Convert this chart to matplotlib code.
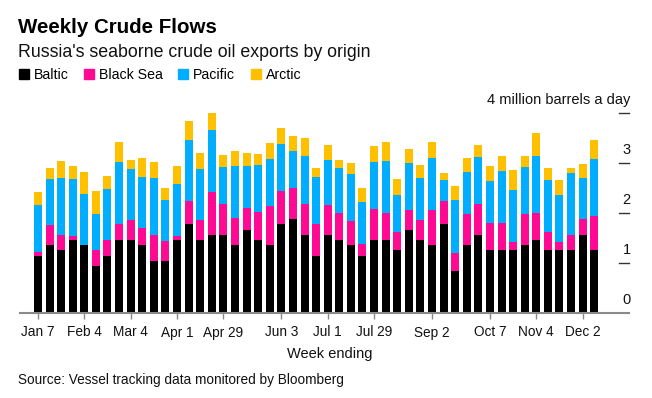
import matplotlib
matplotlib.use("Agg")
import matplotlib.pyplot as plt
import matplotlib.transforms as mtransforms
import numpy as np
import pandas as pd
from matplotlib.lines import Line2D

plt.rcParams["font.family"] = ["Liberation Sans", "DejaVu Sans"]

# weekly values, million barrels a day, weeks ending Jan 7 .. Dec 9
weeks = pd.date_range("2018-01-07", periods=49, freq="7D")

baltic = [1.15, 1.36, 1.26, 1.46, 1.36, 0.94, 1.15, 1.46, 1.46, 1.36,
          1.04, 1.04, 1.46, 1.78, 1.46, 1.56, 1.56, 1.36, 1.66, 1.46,
          1.36, 1.78, 1.88, 1.56, 1.15, 1.56, 1.46, 1.36, 1.15, 1.46,
          1.46, 1.26, 1.66, 1.46, 1.36, 1.78, 0.84, 1.36, 1.56, 1.26,
          1.26, 1.26, 1.36, 1.46, 1.26, 1.26, 1.26, 1.56, 1.26]
black_sea = [0.08, 0.40, 0.30, 0.08, 0.00, 0.32, 0.32, 0.33, 0.40, 0.34,
             0.52, 0.40, 0.08, 0.46, 0.40, 0.86, 0.62, 0.54, 0.44, 0.56,
             0.78, 0.66, 0.62, 0.62, 0.64, 0.60, 0.54, 0.48, 0.23, 0.62,
             0.54, 0.36, 0.40, 0.40, 0.70, 0.46, 0.36, 0.62, 0.62, 0.54,
             0.54, 0.16, 0.62, 0.54, 0.36, 0.16, 0.30, 0.32, 0.68]
pacific = [0.93, 0.92, 1.14, 1.14, 1.02, 0.72, 1.01, 1.23, 1.02, 1.02,
           1.14, 0.82, 1.04, 1.22, 1.02, 1.24, 0.74, 1.04, 0.84, 0.94,
           0.94, 0.94, 0.74, 0.96, 0.93, 0.90, 0.90, 0.94, 0.84, 0.94,
           1.04, 0.74, 0.94, 0.84, 1.04, 0.42, 1.06, 0.84, 0.94, 0.84,
           1.04, 1.04, 0.94, 1.14, 1.04, 0.94, 1.24, 0.82, 1.14]
arctic = [0.26, 0.22, 0.34, 0.26, 0.44, 0.46, 0.26, 0.40, 0.18, 0.38,
          0.32, 0.24, 0.36, 0.38, 0.32, 0.34, 0.24, 0.30, 0.26, 0.22,
          0.32, 0.32, 0.30, 0.36, 0.18, 0.30, 0.16, 0.22, 0.28, 0.32,
          0.38, 0.32, 0.28, 0.26, 0.32, 0.14, 0.28, 0.28, 0.24, 0.30,
          0.30, 0.40, 0.22, 0.46, 0.24, 0.30, 0.10, 0.28, 0.38]

series = ["Baltic", "Black Sea", "Pacific", "Arctic"]
colors = ["#000000", "#ff0a93", "#00adff", "#ffc000"]
tick_weeks = ["Jan 7", "Feb 4", "Mar 4", "Apr 1", "Apr 29", "Jun 3",
              "Jul 1", "Jul 29", "Sep 2", "Oct 7", "Nov 4", "Dec 2"]
y_ticks = [0, 1, 2, 3, 4]

W, H = 652, 398
fig = plt.figure(figsize=(W / 100, H / 100), dpi=100)
ax = fig.add_axes([20 / W, 1 - 313 / H, 609 / W, 210 / H])

x = np.arange(len(weeks))
bottom = np.zeros(len(weeks))
for vals, col in zip([baltic, black_sea, pacific, arctic], colors):
    ax.bar(x, vals, bottom=bottom, width=0.69, color=col, linewidth=0)
    bottom += np.asarray(vals)

ax.set_xlim(-1.55, 51.0)
ax.set_ylim(0, 4.2)

for s in ["top", "right", "left"]:
    ax.spines[s].set_visible(False)
ax.spines["bottom"].set_color("#8a8a8a")
ax.spines["bottom"].set_linewidth(1.5)

labels = [d.strftime("%b ") + str(d.day) for d in weeks]
pos = [labels.index(t) for t in tick_weeks]
ax.set_xticks(pos)
ax.set_xticklabels(tick_weeks, fontsize=9.8, color="#111111")
ax.tick_params(axis="x", length=4, width=1, color="#8a8a8a", pad=5)
ax.set_yticks([])

# y labels sit on short dashes at the right
trans = mtransforms.blended_transform_factory(ax.transAxes, ax.transData)
for v in y_ticks[1:]:
    ax.plot([0.9836, 1.0], [v, v], transform=trans, color="#333333",
            lw=1, clip_on=False)
for v in y_ticks:
    txt = "4 million barrels a day" if v == 4 else str(v)
    ax.annotate(txt, xy=(1.003, v), xycoords=trans, xytext=(0, 9),
                textcoords="offset pixels", ha="right", va="baseline",
                fontsize=10.5, color="#111111", annotation_clip=False)

fig.text(330 / W, 1 - 354 / H, "Week ending", ha="center", va="center",
         fontsize=10.5, color="#111111")
fig.text(18 / W, 1 - 33 / H, "Weekly Crude Flows", ha="left",
         va="baseline", fontsize=14.8, fontweight="bold")
fig.text(18 / W, 1 - 57 / H, "Russia's seaborne crude oil exports by origin",
         ha="left", va="baseline", fontsize=12.8, color="#111111")
fig.text(18 / W, 1 - 380 / H,
         "Source: Vessel tracking data monitored by Bloomberg",
         ha="left", va="center", fontsize=9.8, color="#111111")

handles = [Line2D([], [], marker="s", ls="none", color=c, markersize=7.5)
           for c in colors]
fig.legend(handles, series, loc="center left",
           bbox_to_anchor=(13 / W, 1 - 75 / H), ncol=4, frameon=False,
           fontsize=10.2, handlelength=0.7, handletextpad=0.35,
           columnspacing=1.1, borderaxespad=0)

fig.savefig("out.png", dpi=100)
